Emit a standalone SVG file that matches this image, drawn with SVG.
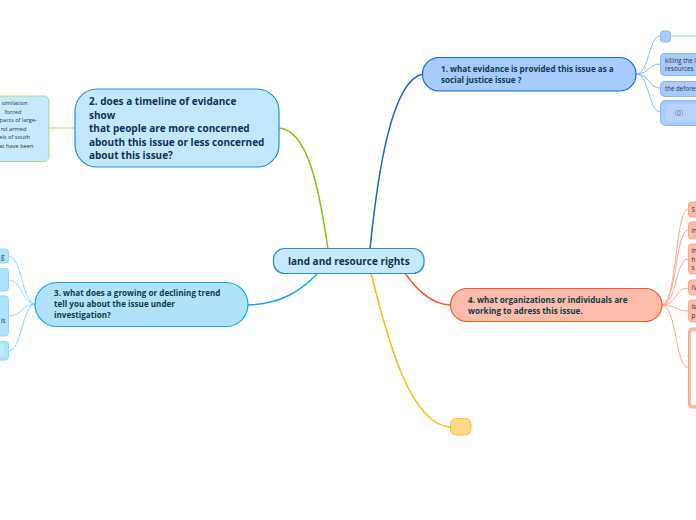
<svg xmlns="http://www.w3.org/2000/svg" width="696" height="520" viewBox="0 0 696 520">
<style>
text{font-family:"Open Sans","Noto Sans","DejaVu Sans",sans-serif;}
.c{fill:none;stroke-linecap:round}
.m{stroke-width:1.5}
.s{stroke-width:1}
.t{font-weight:700;fill:#0f3b4a;font-size:8.1px}
.l{font-size:6.2px;fill:#333}
.e{text-anchor:end;font-size:5.7px}
.b1{fill:#a6cbff;stroke:#1a6bd0;stroke-width:1.2}
.b1c{fill:#a6cbff;stroke:#8cb8f5;stroke-width:1}
.b3{fill:#b0e3fb;stroke:#14a5ec;stroke-width:1.2}
.b3c{fill:#b0e3fb;stroke:#8fd8fa;stroke-width:1}
.b4{fill:#fbbcaa;stroke:#f4592c;stroke-width:1.2}
.b4c{fill:#fbbcaa;stroke:#fba88f;stroke-width:1}
</style>
<g id="connectors">
<path class="c m" stroke="#8cc20f" d="M279 128C306 130 318 180 328 249"/>
<path class="c m" stroke="#1a63cc" d="M423 74C392 80 378 170 370 249"/>
<path class="c m" stroke="#14a5ec" d="M248 305C280 304 300 292 318 273"/>
<path class="c m" stroke="#f4592c" d="M450 305C432 304 418 292 405 273"/>
<path class="c m" stroke="#ffb914" d="M450 427C412 424 390 350 371 273"/>
<path class="c s" stroke="#a9dd7a" d="M49 128H75"/>
<path class="c s" stroke="#8fd8fa" d="M35 304C22 304 22 256 9 256M35 304C22 304 22 280 9 280M35 304C22 304 22 316 9 316M35 304C22 304 22 351 9 351"/>
<path class="c s" stroke="#8cb8f5" d="M636 74C650 74 648 36 660 36M636 74C650 74 648 64 660 64M636 74C650 74 648 88 660 88M636 74C650 74 648 112 660 112"/>
<path class="c s" stroke="#a9c9f7" d="M671 36H696"/>
<path class="c s" stroke="#fba88f" d="M662 305C677 305 675 209 688 209M662 305C677 305 675 230 688 230M662 305C677 305 675 259 688 259M662 305C677 305 675 288 688 288M662 305C677 305 675 311 688 311M662 305C677 305 675 368 688 368"/>
</g>
<g id="central"><rect x="273.5" y="248.5" width="150.500" height="25" rx="11" fill="#c5eaff" stroke="#2a8acb" stroke-width="1.200"/><text x="288" y="265" font-size="10" font-weight="700" fill="#10315a">land and resource rights</text></g>
<g id="node-2"><rect x="75" y="89" width="204" height="78" rx="22" fill="#c2e8fd" stroke="#2b8ccf" stroke-width="1.200"/>
<text font-size="10" font-weight="700" fill="#10315a"><tspan x="89" y="105">2. does a timeline of evidance</tspan><tspan x="89" y="118.500">show</tspan><tspan x="89" y="132">that people are more concerned</tspan><tspan x="89" y="145.500">abouth this issue or less concerned</tspan><tspan x="89" y="159">about this issue?</tspan></text></g>
<g id="node-2-child"><rect x="-30" y="96" width="79" height="65.500" rx="5" fill="#c6eafb" stroke="#a9dd7a"/>
<text class="l e"><tspan x="27.500" y="105">similation</tspan><tspan x="21.500" y="113.500">forced</tspan><tspan x="37" y="122">pacts of large-</tspan><tspan x="26.500" y="130.500">nd armed</tspan><tspan x="30" y="139">els of south</tspan><tspan x="33.500" y="147.500">at have been</tspan></text></g>
<g id="node-1"><rect class="b1" x="422.500" y="57.500" width="213.500" height="33.500" rx="16.500"/><text class="t"><tspan x="441" y="72">1. what evidance is provided this issue as a</tspan><tspan x="441" y="83">social justice issue ?</tspan></text></g>
<g id="node-1-a"><rect class="b1c" x="660.500" y="31" width="10" height="11" rx="3"/></g>
<g id="node-1-b"><rect class="b1c" x="660.500" y="53.500" width="50" height="22" rx="4"/><text class="l"><tspan x="665" y="63">killing the la</tspan><tspan x="665" y="71">resources</tspan></text></g>
<g id="node-1-c"><rect class="b1c" x="660.500" y="81.500" width="50" height="15" rx="4"/><text class="l" x="665" y="91">the defores</text></g>
<g id="node-1-d"><rect class="b1c" x="660.500" y="100.500" width="50" height="25" rx="5"/><rect x="665.500" y="104" width="40" height="18" rx="3" fill="#b7d3fc"/><g fill="none" stroke="#8298b8" stroke-width=".8"><rect x="675.500" y="110.500" width="7" height="5" rx="1"/><circle cx="679" cy="113" r="1.500"/></g></g>
<g id="node-3"><rect class="b3" x="35" y="282.500" width="213" height="44" rx="22"/><text class="t"><tspan x="54" y="296">3. what does a growing or declining trend</tspan><tspan x="54" y="307">tell you about the issue under</tspan><tspan x="54" y="318">investigation?</tspan></text></g>
<g id="node-3-a"><rect class="b3c" x="-20" y="249" width="28.500" height="14" rx="3"/><text class="l" x="1" y="258.500">g</text></g>
<g id="node-3-b"><rect class="b3c" x="-20" y="268.500" width="28.500" height="22.500" rx="3"/></g>
<g id="node-3-c"><rect class="b3c" x="-20" y="296" width="28.500" height="40" rx="3"/><text class="l" x="1" y="323">ls</text></g>
<g id="node-3-d"><rect class="b3c" x="-20" y="341.500" width="28.500" height="18.500" rx="3"/><rect x="-16" y="344.500" width="20" height="12" rx="2" fill="#c4ebfb"/></g>
<g id="node-4"><rect class="b4" x="450.500" y="288.500" width="211.500" height="33" rx="16.500"/><text class="t"><tspan x="468" y="303">4. what organizations or individuals are</tspan><tspan x="468" y="314">working to adress this issue.</tspan></text></g>
<g id="node-4-a"><rect class="b4c" x="688.500" y="202" width="20" height="15" rx="3"/><text class="l" x="691.500" y="212">S</text></g>
<g id="node-4-b"><rect class="b4c" x="688.500" y="222" width="20" height="17" rx="3"/><text class="l" x="691.500" y="233">in</text></g>
<g id="node-4-c"><rect class="b4c" x="688.500" y="244" width="20" height="30" rx="3"/><text class="l"><tspan x="691.500" y="253">in</tspan><tspan x="691.500" y="261.500">h</tspan><tspan x="691.500" y="270">s</tspan></text></g>
<g id="node-4-d"><rect class="b4c" x="688.500" y="280" width="20" height="15" rx="3"/><text class="l" x="691.500" y="290">IV</text></g>
<g id="node-4-e"><rect class="b4c" x="688.500" y="300" width="20" height="22" rx="3"/><text class="l"><tspan x="691.500" y="309">is</tspan><tspan x="691.500" y="318">p</tspan></text></g>
<g id="node-4-f"><rect class="b4c" x="688.500" y="328" width="20" height="80" rx="3"/><rect x="691" y="331" width="15" height="74" rx="2" fill="#fff"/></g>
<g id="node-5"><rect x="450.500" y="418.500" width="20.500" height="16.500" rx="5.500" fill="#ffd98a" stroke="#ffc02e" stroke-width="1"/></g>
</svg>
